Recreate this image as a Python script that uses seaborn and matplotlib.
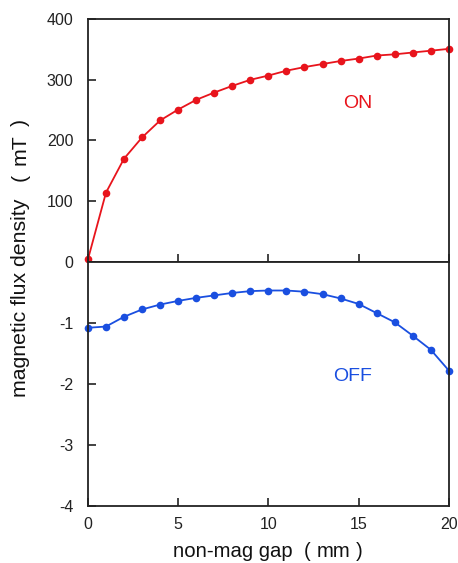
import numpy as np
import pandas as pd
import matplotlib
matplotlib.use("Agg")
import matplotlib.pyplot as plt
import seaborn as sns

gap_mm = list(range(0, 21))
on_mT = [4, 114, 170, 205, 233, 251, 267, 279, 290, 300, 307, 315, 321, 326,
         331, 335, 340, 342, 345, 348, 351]
off_mT = [-1.08, -1.06, -0.90, -0.78, -0.70, -0.64, -0.59, -0.55, -0.51, -0.48,
          -0.47, -0.47, -0.49, -0.53, -0.60, -0.69, -0.84, -0.99, -1.21, -1.44, -1.78]
on_ticks = [0, 100, 200, 300, 400]
off_ticks = [-4, -3, -2, -1]
x_ticks = [0, 5, 10, 15, 20]

sns.set_theme(style="white")
plt.rcParams['font.family'] = ['Liberation Sans', 'Noto Sans CJK SC', 'DejaVu Sans']
plt.rcParams['axes.unicode_minus'] = False

RED = '#e8141c'
BLUE = '#1a4fe0'
TXT = '#111111'

df_on = pd.DataFrame({"gap": gap_mm, "val": on_mT})
df_off = pd.DataFrame({"gap": gap_mm, "val": off_mT})

W, H = 458, 563
fig = plt.figure(figsize=(W / 100, H / 100), dpi=100)
ax1 = fig.add_axes([0.192, 0.535, 0.788, 0.431])
ax2 = fig.add_axes([0.192, 0.101, 0.788, 0.434], sharex=ax1)

sns.lineplot(data=df_on, x="gap", y="val", ax=ax1, color=RED, marker='o',
             markersize=5.5, markeredgewidth=0, linewidth=1.3, clip_on=False)
sns.lineplot(data=df_off, x="gap", y="val", ax=ax2, color=BLUE, marker='o',
             markersize=5.5, markeredgewidth=0, linewidth=1.3, clip_on=False)

for ax in (ax1, ax2):
    ax.set_xlim(0, 20)
    ax.set_xticks(x_ticks)
    ax.set_xlabel("")
    ax.set_ylabel("")
    for s in ax.spines.values():
        s.set_color('#222222')
        s.set_linewidth(1.3)
    ax.tick_params(direction='in', length=6, width=1.2, colors='#222222',
                   labelsize=11.5, left=True, bottom=True, right=False, top=False)

ax1.set_ylim(0, 400)
ax1.set_yticks(on_ticks)
ax1.tick_params(axis='x', labelbottom=False)
ax1.tick_params(axis='y', pad=10.5)

ax2.set_ylim(-4, 0)
ax2.set_yticks(off_ticks)
ax2.tick_params(axis='y', pad=10.5)
ax2.tick_params(axis='x', pad=8)

ax1.text(0.748, 0.654, "ON", transform=ax1.transAxes, color=RED, fontsize=14,
         ha='center', va='center')
ax2.text(0.734, 0.529, "OFF", transform=ax2.transAxes, color=BLUE, fontsize=14,
         ha='center', va='center')

def fx(px):
    return px / W

def fy(py):
    return 1 - py / H

# y label pieces (rotated, anchored at baseline)
ykw = dict(rotation=90, rotation_mode='anchor', va='baseline', fontsize=15.3, color=TXT)
fig.text(fx(26), fy(397), "magnetic flux density", ha='left', **ykw)
fig.text(fx(26), fy(181), "(", ha='left', **ykw)
fig.text(fx(26), fy(150), "mT", ha='center', **ykw)
fig.text(fx(26), fy(119), ")", ha='right', **ykw)

# x label pieces
xkw = dict(va='baseline', fontsize=14.6, color=TXT)
fig.text(fx(173), fy(557), "non-mag gap", ha='left', **xkw)
fig.text(fx(304), fy(557), "(", ha='left', **xkw)
fig.text(fx(334), fy(557), "mm", ha='center', **xkw)
fig.text(fx(363), fy(557), ")", ha='right', **xkw)

fig.savefig("out.png", dpi=100)
